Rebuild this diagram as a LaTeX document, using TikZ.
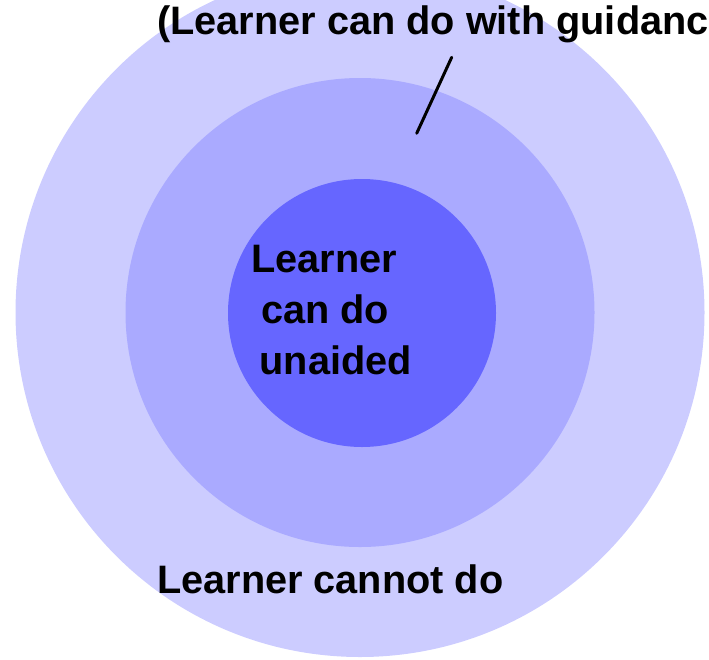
\documentclass[tikz,border=0pt]{standalone}
\usepackage{fontspec}
\setmainfont{Liberation Sans}
\usetikzlibrary{positioning}
\definecolor{outerring}{HTML}{CCCCFF}
\definecolor{midring}{HTML}{AAAAFF}
\definecolor{innerdisc}{HTML}{6666FF}
\tikzstyle{zone}=[circle, draw=none, inner sep=0pt]
\tikzstyle{lbl}=[inner sep=0pt, font=\fontsize{39.7}{51}\selectfont\bfseries]
\tikzstyle{l1}=[line width=3pt, line cap=round]

\begin{document}
\begin{tikzpicture}[x=1pt, y=-1pt]
    \useasboundingbox (0,0) rectangle (709,659);
    \clip (0,0) rectangle (709,659);
    % the three zones
    \node[zone, fill=outerring, minimum size=689pt] (cannot) at (360,312.5) {};
    \node[zone, fill=midring, minimum size=469pt] (zpd) at (360,312.5) {};
    \node[zone, fill=innerdisc, minimum size=268pt] (unaided) at (362,313) {};

    \node[lbl, anchor=base west] (guide) at (157,34) {(Learner can do with guidanc};
    \node[lbl, anchor=base west] (nodo) at (157,593) {Learner cannot do};
    \node[lbl, anchor=north west, align=left] (self) at (251,245)
        {Learner\\\hspace*{10pt}can do\\\hspace*{8.5pt}unaided};

    \coordinate (ptop) at (451.7,57.3);
    \coordinate (pend) at (416.7,133.3);
    \draw[l1] (ptop) -- (pend);
\end{tikzpicture}
\end{document}
